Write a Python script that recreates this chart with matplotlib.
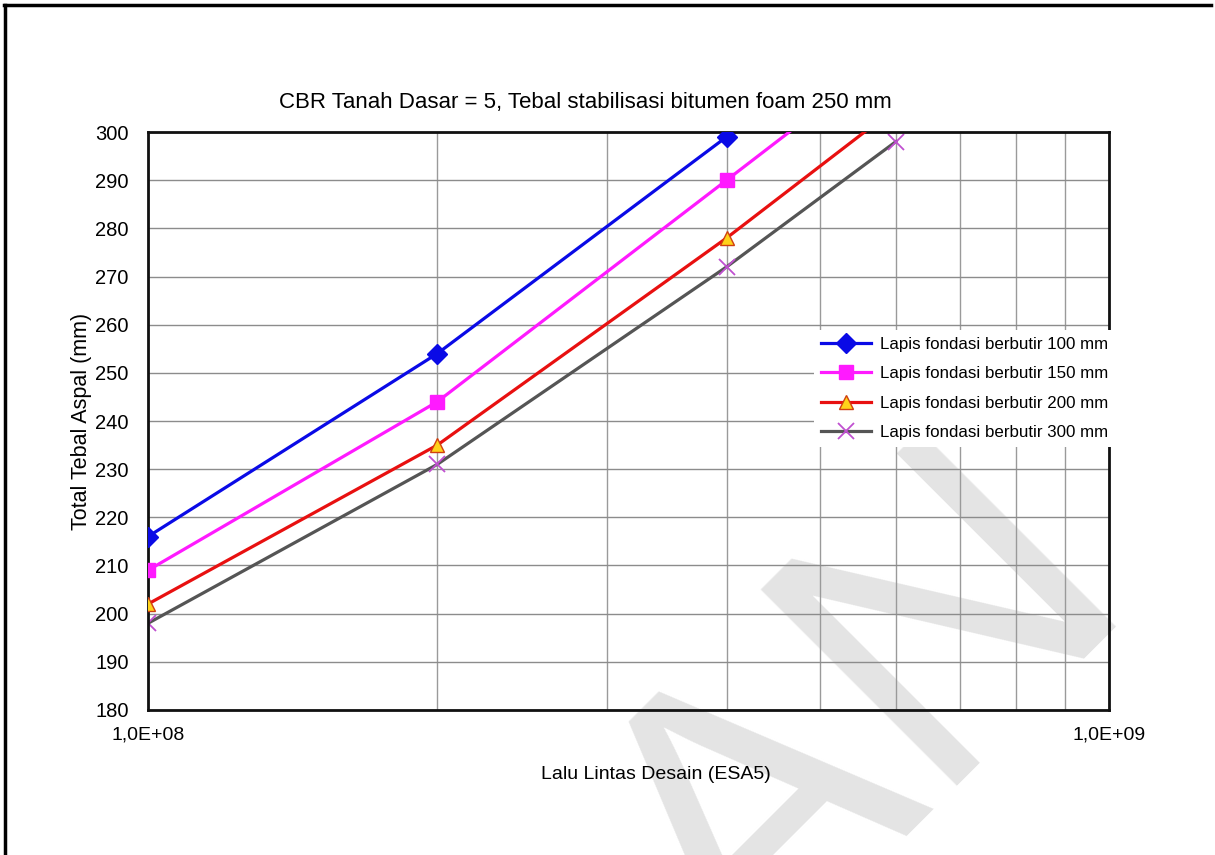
import numpy as np
import matplotlib
matplotlib.use('Agg')
import matplotlib.pyplot as plt
from matplotlib.ticker import FixedLocator, NullFormatter, FixedFormatter
from matplotlib.lines import Line2D

plt.rcParams['font.family'] = ['Liberation Sans', 'DejaVu Sans']

# data
esa = [1e8, 2e8, 4e8, 6e8]
tebal_100 = [216, 254, 299]
tebal_150 = [209, 244, 290, 317]
tebal_200 = [202, 235, 278, 305]
tebal_300 = [198, 231, 272, 298]

labels = ['Lapis fondasi berbutir 100 mm', 'Lapis fondasi berbutir 150 mm',
          'Lapis fondasi berbutir 200 mm', 'Lapis fondasi berbutir 300 mm']

fig = plt.figure(figsize=(12.15, 8.55), dpi=100)

# page frame (top and left edges)
fig.add_artist(Line2D([0.003, 0.997], [0.994, 0.994], color='black', lw=2.5))
fig.add_artist(Line2D([0.004, 0.004], [0.0, 0.994], color='black', lw=2.5))

# watermark behind the chart
fig.text(0.715, 0.15, 'AN', fontsize=290, color='#e4e4e4', rotation=45,
         ha='center', va='center', zorder=-1)

ax = fig.add_axes([0.1218, 0.1696, 0.791, 0.676])
ax.set_facecolor('none')
ax.set_xscale('log')
ax.set_xlim(1e8, 1e9)
ax.set_ylim(180, 300)

ax.plot(esa[:3], tebal_100, color='#0a0ae6', lw=2.3, marker='D', ms=10,
        mfc='#0a0ae6', mec='#0a0ae6', label=labels[0], zorder=5)
ax.plot(esa, tebal_150, color='#ff1aff', lw=2.3, marker='s', ms=10,
        mfc='#ff1aff', mec='#ff1aff', label=labels[1], zorder=4)
ax.plot(esa, tebal_200, color='#e81010', lw=2.3, marker='^', ms=10,
        mfc='#ffd21a', mec='#d04010', label=labels[2], zorder=3)
ax.plot(esa, tebal_300, color='#555555', lw=2.3, marker='x', ms=11, mew=1.3,
        mfc='#c050d0', mec='#c050d0', label=labels[3], zorder=2)

ax.xaxis.set_major_locator(FixedLocator([1e8, 1e9]))
ax.xaxis.set_major_formatter(FixedFormatter(['1,0E+08', '1,0E+09']))
ax.xaxis.set_minor_locator(FixedLocator([k * 1e8 for k in range(2, 10)]))
ax.xaxis.set_minor_formatter(NullFormatter())
ax.set_yticks(np.arange(180, 301, 10))

ax.grid(True, which='both', axis='x', color='#9a9a9a', lw=1.0)
ax.grid(True, which='major', axis='y', color='#8c8c8c', lw=1.0)
ax.set_axisbelow(True)
ax.tick_params(which='both', length=0)
ax.tick_params(axis='y', labelsize=14.5, pad=14)
ax.tick_params(axis='x', labelsize=14, pad=12)

for s in ax.spines.values():
    s.set_linewidth(2.0)
    s.set_color('#111111')

ax.set_title('CBR Tanah Dasar = 5, Tebal stabilisasi bitumen foam 250 mm',
             fontsize=16, pad=17, x=0.455)
ax.set_xlabel('Lalu Lintas Desain (ESA5)', fontsize=14, labelpad=16, x=0.528)
ax.set_ylabel('Total Tebal Aspal (mm)', fontsize=15.5, labelpad=2)

leg = ax.legend(loc='upper left', bbox_to_anchor=(0.684, 0.672), fontsize=12.2,
                frameon=True, facecolor='white', edgecolor='none', framealpha=1,
                fancybox=False, handlelength=3.0, handletextpad=0.5,
                labelspacing=0.85, borderpad=0.4)

fig.savefig('out.png', dpi=100)
